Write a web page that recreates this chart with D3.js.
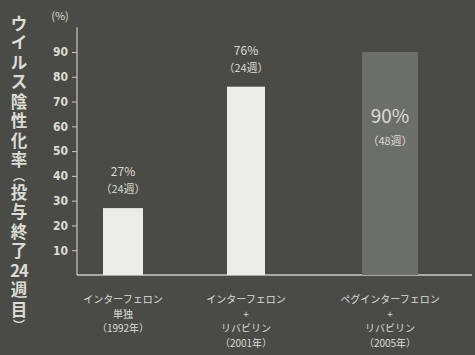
<!DOCTYPE html>
<html>
<head>
<meta charset="utf-8">
<script src="https://cdn.jsdelivr.net/npm/d3@7"></script>
<style>
  body { margin: 0; background: #4a4b47; }
  svg { display: block; }
</style>
</head>
<body>
<script>
// Data
const categories = ["ifn", "ifnRbv", "pegRbv"];
const categoryLabels = [
    ["インターフェロン", "単独", "（1992年）"],
    ["インターフェロン", "+", "リバビリン", "（2001年）"],
    ["ペグインターフェロン", "+", "リバビリン", "（2005年）"]
];
const values = [27, 76, 90];
const weeks = ["（24週）", "（24週）", "（48週）"];
const yTicks = [10, 20, 30, 40, 50, 60, 70, 80, 90];
const yTitle = ["ウ", "イ", "ル", "ス", "陰", "性", "化", "率", "︵", "投", "与", "終", "了", "24", "週", "目", "︶"];

const width = 475, height = 355;
const baseY = 275, axisX = 77;
const txt = "#dcdcd6";
const font = "'Noto Sans CJK JP', 'Noto Sans', sans-serif";

const svg = d3.select("body").append("svg")
    .attr("width", width)
    .attr("height", height)
    .style("font-family", font);

svg.append("rect").attr("width", width).attr("height", height).attr("fill", "#4a4b47");

// Scales
const x = d3.scaleOrdinal().domain(categories).range([123, 246, 390]);
const barW = d3.scaleOrdinal().domain(categories).range([40, 38, 56]);
const y = d3.scaleLinear().domain([0, 90]).range([baseY, 52]);

// Axis
const yAxis = svg.append("g")
    .attr("transform", `translate(${axisX},0)`)
    .call(d3.axisLeft(y).tickValues(yTicks).tickSize(5).tickPadding(4));
yAxis.select(".domain").attr("d", `M0,${y(100)}V${baseY}`).attr("stroke", "#c8c8c2").attr("stroke-width", 1.2);
yAxis.selectAll(".tick line").attr("stroke", "#c8c8c2");
yAxis.selectAll(".tick text")
    .attr("fill", txt)
    .style("font-family", "'Liberation Sans Narrow', 'DejaVu Sans Condensed', sans-serif")
    .style("font-size", "12px")
    .style("font-weight", "bold");

// baseline
svg.append("line")
    .attr("x1", axisX).attr("x2", 472)
    .attr("y1", baseY).attr("y2", baseY)
    .attr("stroke", "#c8c8c2").attr("stroke-width", 1.5);

svg.append("text")
    .attr("x", 60).attr("y", 20)
    .attr("text-anchor", "middle")
    .attr("fill", txt)
    .style("font-size", "11px")
    .text("(%)");

// Bars
svg.append("g").selectAll("rect")
    .data(categories)
    .join("rect")
    .attr("x", d => x(d) - barW(d) / 2)
    .attr("width", d => barW(d))
    .attr("y", (d, i) => y(values[i]))
    .attr("height", (d, i) => baseY - y(values[i]))
    .attr("fill", (d, i) => i < 2 ? "#ebebe8" : "#6c6e6a");

// Value labels
const lab = svg.append("g").attr("text-anchor", "middle").attr("fill", txt);
categories.forEach((c, i) => {
    const inside = i === 2;
    const top = inside ? y(values[i]) + 71 : y(values[i]) - 32;
    lab.append("text")
        .attr("x", x(c)).attr("y", top)
        .style("font-size", inside ? "19px" : "12px")
        .text(values[i] + "%");
    lab.append("text")
        .attr("x", x(c)).attr("y", top + (inside ? 22 : 17))
        .style("font-size", "11px")
        .text(weeks[i]);
});

// Category labels
const cat = svg.append("g").attr("text-anchor", "middle").attr("fill", txt);
categories.forEach((c, i) => {
    categoryLabels[i].forEach((line, j) => {
        cat.append("text")
            .attr("x", x(c))
            .attr("y", 303 + j * 14.5)
            .style("font-size", "10px")
            .text(line);
    });
});

// Vertical y title (one text, stacked tspans)
let cy = 14;
const title = svg.append("text").attr("text-anchor", "middle").attr("fill", txt)
    .style("font-size", "16.5px").style("font-weight", "bold");
yTitle.forEach(ch => {
    const paren = ch === "︵" || ch === "︶";
    const adv = paren ? 13 : 19.5;
    title.append("tspan")
        .attr("x", 19)
        .attr("y", cy + adv / 2 + (paren ? 4 : 6))
        .style("letter-spacing", ch === "24" ? "-1px" : null)
        .style("font-size", paren ? "12px" : null)
        .text(ch);
    cy += adv;
});
</script>
</body>
</html>
